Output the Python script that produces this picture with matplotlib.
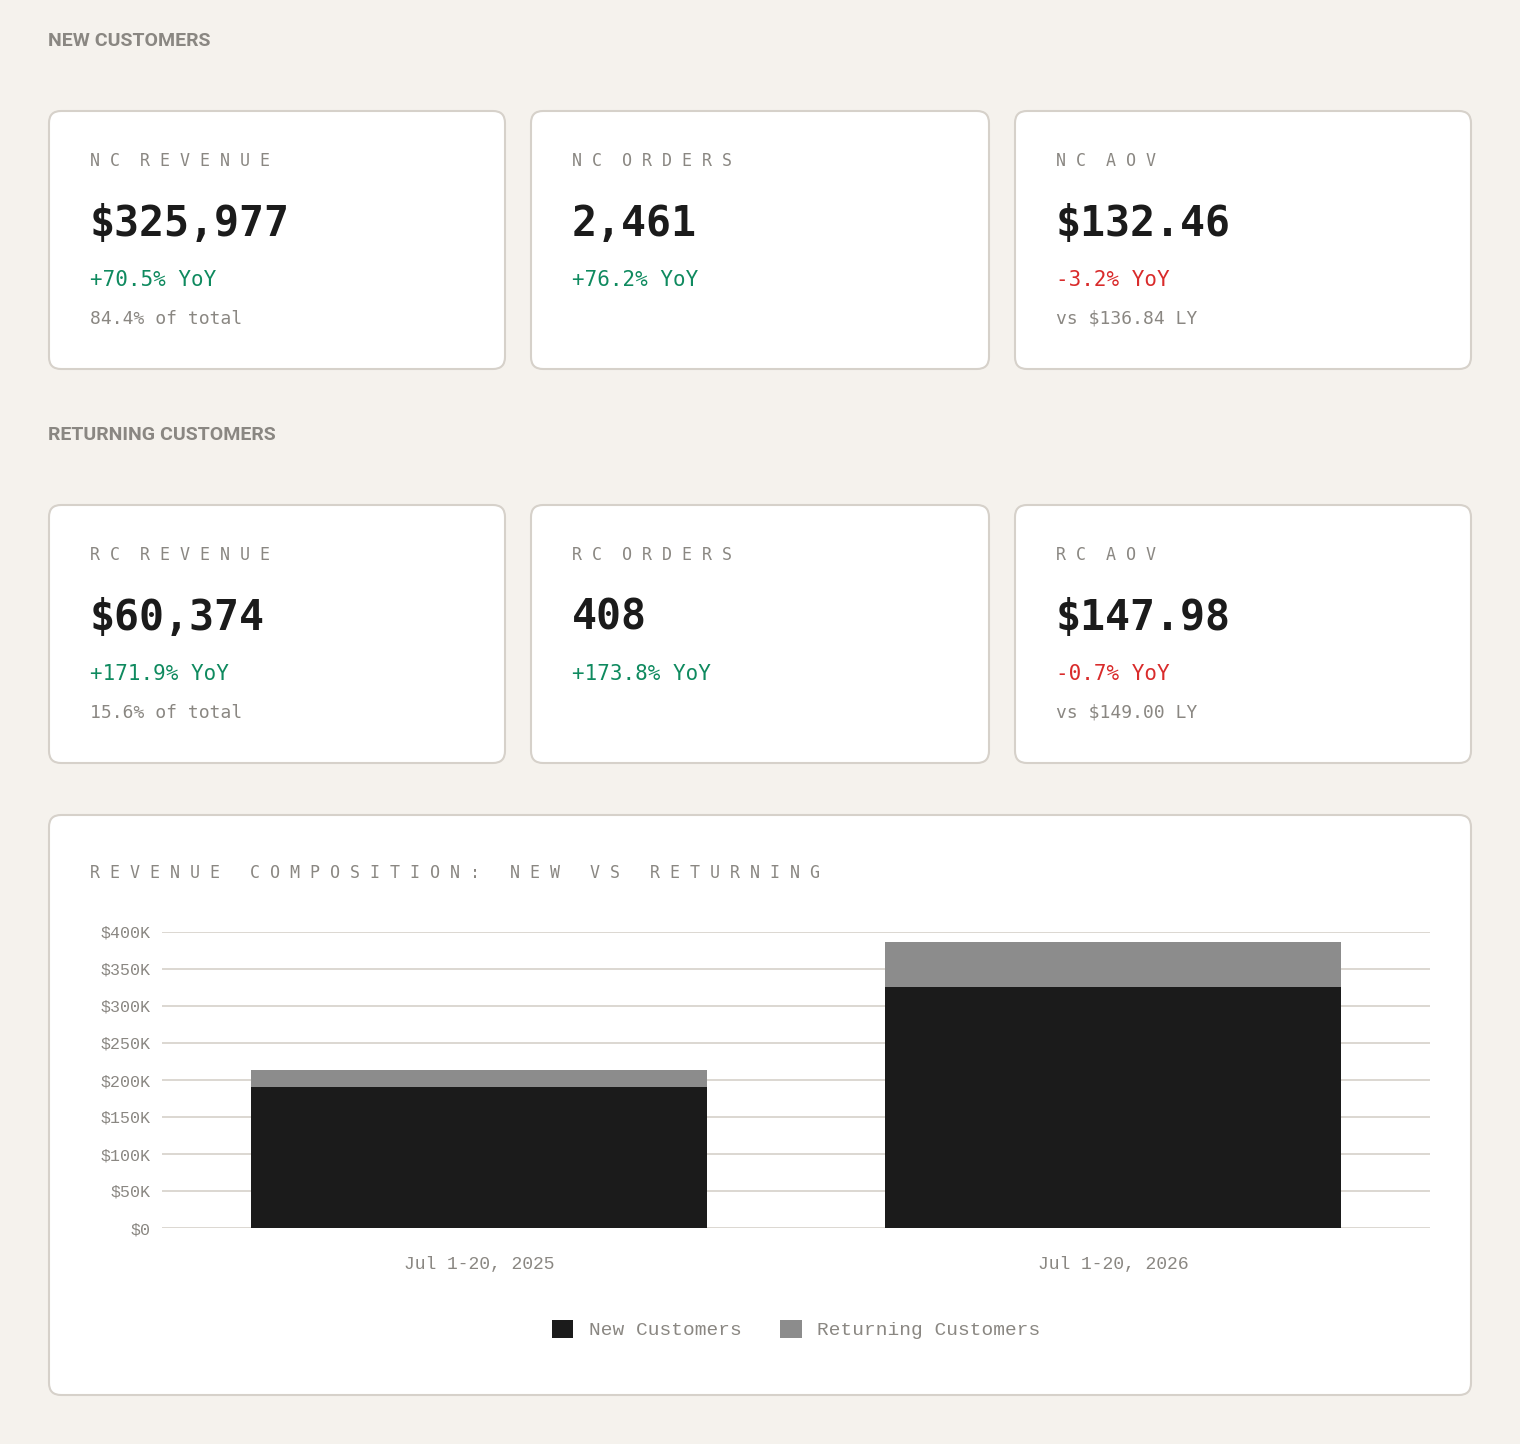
""" Revenue dashboard: new vs returning customers """

import numpy as np
import matplotlib.pyplot as plt
from matplotlib.patches import FancyBboxPatch

BG = '#f5f2ed'
BORDER = '#d6d1ca'
GREEN = '#0f8a5f'
RED = '#d92b2b'
GREY = '#8a8782'
DARK = '#1b1b1b'
MONO = 'DejaVu Sans Mono'

# KPI cards: (x, y, label, value, yoy, note)
cards = [
    (49, 111, 'NC REVENUE', '$325,977', '+70.5% YoY', '84.4% of total'),
    (531, 111, 'NC ORDERS', '2,461', '+76.2% YoY', ''),
    (1015, 111, 'NC AOV', '$132.46', '-3.2% YoY', 'vs $136.84 LY'),
    (49, 505, 'RC REVENUE', '$60,374', '+171.9% YoY', '15.6% of total'),
    (531, 505, 'RC ORDERS', '408', '+173.8% YoY', ''),
    (1015, 505, 'RC AOV', '$147.98', '-0.7% YoY', 'vs $149.00 LY'),
]
widths = [456, 458, 456]

# Chart data
periods = ['Jul 1-20, 2025', 'Jul 1-20, 2026']
new_rev = np.array([191200, 325977])
ret_rev = np.array([22200, 60374])

#--------------------------   Page layout   --------------------------#
fig = plt.figure(figsize=(15.20, 14.44), dpi=100, facecolor=BG)
page = fig.add_axes([0, 0, 1, 1])
page.set_xlim(0, 1520)
page.set_ylim(1444, 0)
page.axis('off')

page.text(48, 41, 'NEW CUSTOMERS', fontsize=14, fontweight='bold', color=GREY,
          family='Roboto', va='center')
page.text(48, 435, 'RETURNING CUSTOMERS', fontsize=14, fontweight='bold', color=GREY,
          family='Roboto', va='center')

for i, (x, y, label, value, yoy, note) in enumerate(cards):
    w = widths[i % 3]
    page.add_patch(FancyBboxPatch((x, y), w, 258, boxstyle='round,pad=0,rounding_size=12',
                                  facecolor='white', edgecolor=BORDER, linewidth=1.5))
    page.text(x + 41, y + 50, ' '.join(label.split(' ')).replace('', ' ').strip().replace('   ', '  '),
              fontsize=12, color=GREY, family=MONO, va='center')
    page.text(x + 41, y + 113, value, fontsize=30, fontweight='bold', color=DARK,
              family=MONO, va='center')
    page.text(x + 41, y + 169, yoy, fontsize=15, color=RED if yoy.startswith('-') else GREEN,
              family=MONO, va='center')
    page.text(x + 41, y + 208, note, fontsize=13, color=GREY, family=MONO, va='center')

page.add_patch(FancyBboxPatch((49, 815), 1422, 580, boxstyle='round,pad=0,rounding_size=12',
                              facecolor='white', edgecolor=BORDER, linewidth=1.5))
page.text(90, 873, 'R E V E N U E   C O M P O S I T I O N :   N E W   V S   R E T U R N I N G',
          fontsize=12, color=GREY, family=MONO, va='center')

#--------------------------   Stacked bars   --------------------------#
ax = fig.add_axes([162/1520, 1 - 1228/1444, 1268/1520, 296/1444])
x = np.arange(len(periods))
ax.bar(x, new_rev, width=0.72, color=DARK, label='New Customers', zorder=3)
ax.bar(x, ret_rev, bottom=new_rev, width=0.72, color='#8c8c8c',
       label='Returning Customers', zorder=3)

ax.set_xlim(-0.5, 1.5)
ax.set_ylim(0, 400000)
ax.set_yticks(np.arange(0, 400001, 50000))
ax.set_yticklabels(['$0' if v == 0 else f'${v // 1000}K' for v in range(0, 400001, 50000)],
                   family='Liberation Mono', fontsize=12, color=GREY)
ax.set_xticks(x)
ax.set_xticklabels(periods, family='Liberation Mono', fontsize=13, color=GREY)
ax.tick_params(axis='both', length=0, pad=8)
ax.tick_params(axis='x', pad=20)
ax.grid(axis='y', color=BORDER, linewidth=1.2, zorder=0)
for s in ax.spines.values():
    s.set_visible(False)
ax.set_facecolor('white')

ax.legend(loc='upper center', bbox_to_anchor=(0.5, -0.25), ncol=2, frameon=False,
          prop={'family': 'Liberation Mono', 'size': 14}, labelcolor=GREY,
          handlelength=1.1, handleheight=1.1, columnspacing=2)

fig.savefig('out.png', dpi=100, facecolor=BG)
#----------------------------------------------------------------------#
